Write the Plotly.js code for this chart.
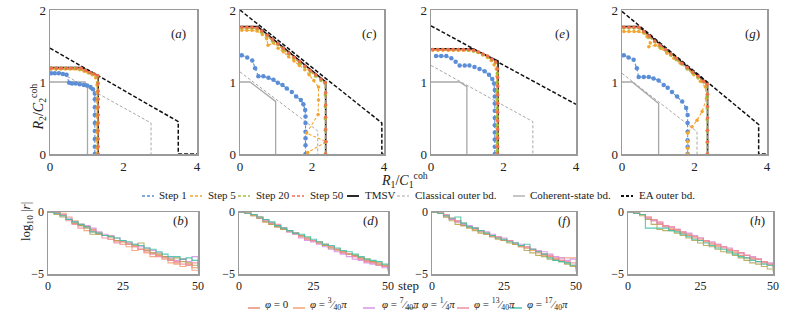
<!DOCTYPE html>
<html>
<head>
<meta charset="utf-8">
<script src="https://cdn.plot.ly/plotly-3.0.1.min.js"></script>
<style>
  body { margin: 0; background: #fff; }
  #plot { width: 789px; height: 331px; }
</style>
</head>
<body>
<div id="plot"></div>
<script>
// ---- panel (a) ----
const a_tmsv_x = [0, 0.86, 1.31, 1.31];
const a_tmsv_y = [1.20, 1.20, 1.09, 0];
const a_ea_x = [0, 3.49, 3.49, 4];
const a_ea_y = [1.47, 0.45, 0, 0];
const a_cl_x = [0, 2.75, 2.75];
const a_cl_y = [1.21, 0.43, 0];
const a_coh_x = [0, 0.95, 1.02, 1.02];
const a_coh_y = [1.0, 1.0, 0.94, 0];
const a_s1_x = [0.03,0.13,0.24,0.35,0.45,0.52,0.60,0.70,0.81,0.92,1.01,1.10,1.17,1.22,1.22,1.22,1.22,1.22,1.22,1.22,1.22,1.22];
const a_s1_y = [1.12,1.12,1.12,1.11,1.10,0.99,0.98,0.98,0.97,0.96,0.95,0.93,0.90,0.84,0.76,0.65,0.54,0.43,0.32,0.21,0.10,0];
const a_s5_x = [0.03,0.16,0.29,0.42,0.55,0.68,0.81,0.93,1.04,1.15,1.24,1.28,1.28,1.28,1.28,1.28,1.28,1.28,1.28,1.28,1.28];
const a_s5_y = [1.18,1.18,1.18,1.18,1.18,1.18,1.17,1.15,1.13,1.10,1.06,0.96,0.85,0.74,0.63,0.52,0.41,0.30,0.19,0.08,0];
const a_s20_x = [0.03,0.16,0.29,0.42,0.55,0.68,0.81,0.94,1.06,1.18,1.29,1.30,1.30,1.30,1.30,1.30,1.30,1.30,1.30,1.30,1.30];
const a_s20_y = [1.19,1.19,1.19,1.19,1.19,1.19,1.18,1.16,1.13,1.11,1.08,0.99,0.88,0.77,0.66,0.55,0.44,0.33,0.22,0.11,0];
const a_s50_x = [0.04,0.18,0.31,0.45,0.58,0.72,0.85,0.97,1.09,1.20,1.30,1.31,1.31,1.31,1.31,1.31,1.31,1.31,1.31,1.31,1.31];
const a_s50_y = [1.19,1.19,1.19,1.19,1.19,1.19,1.19,1.16,1.13,1.11,1.09,0.98,0.87,0.76,0.65,0.54,0.43,0.32,0.21,0.10,0];

// ---- panel (c) ----
const c_tmsv_x = [0, 0.49, 2.38, 2.38];
const c_tmsv_y = [1.77, 1.77, 1.0, 0];
const c_ea_x = [0, 3.94, 3.94, 4];
const c_ea_y = [2.0, 0.43, 0, 0];
const c_cl_x = [0, 2.16, 2.16];
const c_cl_y = [1.14, 0.32, 0];
const c_coh_x = [0, 0.28, 0.99, 0.99];
const c_coh_y = [1.0, 1.0, 0.73, 0];
const c_s1_x = [0.05,0.20,0.34,0.42,0.51,0.65,0.79,0.93,1.05,1.18,1.30,1.44,1.56,1.69,1.76,1.81,1.82,1.82,1.82,1.82,1.82,1.82];
const c_s1_y = [1.37,1.34,1.30,1.19,1.08,1.08,1.06,1.03,0.99,0.96,0.91,0.86,0.80,0.75,0.69,0.61,0.52,0.43,0.31,0.22,0.12,0];
const c_s5_x = [0.05,0.19,0.33,0.47,0.62,0.74,0.78,0.93,1.06,1.20,1.35,1.50,1.65,1.80,1.92,2.05,2.18,2.18,2.17,1.85,2.40,1.88];
const c_s5_y = [1.72,1.72,1.72,1.71,1.66,1.60,1.51,1.54,1.47,1.42,1.35,1.29,1.23,1.17,1.10,1.02,0.93,0.75,0.55,0.29,0.17,0.02];
const c_s20_x = [0.05,0.19,0.33,0.47,0.60,0.75,0.90,1.05,1.20,1.35,1.50,1.65,1.80,1.95,2.10,2.25,2.36,2.37,2.37,2.37,2.37,2.37,2.37];
const c_s20_y = [1.75,1.75,1.75,1.74,1.69,1.64,1.57,1.52,1.45,1.39,1.33,1.26,1.21,1.14,1.08,1.02,0.98,0.82,0.66,0.49,0.33,0.16,0];
const c_s50_x = [0.05,0.19,0.33,0.47,0.60,0.75,0.90,1.05,1.20,1.35,1.50,1.65,1.80,1.95,2.10,2.25,2.37,2.38,2.38,2.38,2.38,2.38,2.38];
const c_s50_y = [1.76,1.76,1.76,1.75,1.71,1.65,1.59,1.53,1.47,1.40,1.34,1.28,1.22,1.16,1.10,1.04,0.99,0.85,0.68,0.51,0.34,0.17,0];

// ---- panel (e) ----
const e_tmsv_x = [0, 1.14, 1.85, 1.85];
const e_tmsv_y = [1.46, 1.46, 1.29, 0];
const e_ea_x = [0, 4];
const e_ea_y = [1.78, 0.69];
const e_cl_x = [0, 2.81, 2.81];
const e_cl_y = [1.23, 0.45, 0];
const e_coh_x = [0, 0.79, 0.99, 0.99];
const e_coh_y = [1.0, 1.0, 0.935, 0];
const e_s1_x = [0.14,0.28,0.42,0.56,0.68,0.79,0.93,1.06,1.20,1.34,1.48,1.60,1.69,1.74,1.76,1.76,1.76,1.76,1.76,1.76,1.76,1.76,1.76,1.76];
const e_s1_y = [1.36,1.36,1.36,1.33,1.28,1.23,1.23,1.23,1.21,1.18,1.15,1.10,1.04,0.98,0.89,0.80,0.70,0.60,0.50,0.40,0.30,0.20,0.10,0];
const e_s5_x = [0.05,0.19,0.33,0.47,0.61,0.75,0.89,1.03,1.17,1.30,1.43,1.56,1.66,1.74,1.80,1.82,1.82,1.82,1.82,1.82,1.82,1.82,1.82,1.82,1.82];
const e_s5_y = [1.44,1.44,1.44,1.44,1.44,1.44,1.44,1.44,1.43,1.41,1.38,1.34,1.30,1.24,1.18,1.08,0.96,0.84,0.72,0.60,0.48,0.36,0.24,0.12,0];
const e_s20_x = [0.05,0.19,0.33,0.47,0.61,0.75,0.89,1.03,1.17,1.30,1.43,1.56,1.68,1.78,1.83,1.83,1.83,1.83,1.83,1.83,1.83,1.83,1.83,1.83,1.83];
const e_s20_y = [1.45,1.45,1.45,1.45,1.45,1.45,1.45,1.44,1.43,1.41,1.38,1.35,1.31,1.27,1.12,1.00,0.88,0.76,0.64,0.52,0.40,0.28,0.16,0.05,0];
const e_s50_x = [0.05,0.19,0.33,0.47,0.61,0.75,0.89,1.03,1.17,1.30,1.43,1.56,1.68,1.78,1.84,1.84,1.84,1.84,1.84,1.84,1.84,1.84,1.84,1.84,1.84];
const e_s50_y = [1.45,1.45,1.45,1.45,1.45,1.45,1.45,1.45,1.44,1.42,1.39,1.36,1.32,1.28,1.18,1.06,0.94,0.82,0.70,0.58,0.46,0.34,0.22,0.10,0];

// ---- panel (g) ----
const g_tmsv_x = [0, 0.46, 2.36, 2.36];
const g_tmsv_y = [1.77, 1.77, 0.98, 0];
const g_ea_x = [0, 3.77, 3.77, 4];
const g_ea_y = [1.98, 0.41, 0, 0];
const g_cl_x = [0, 2.07, 2.07];
const g_cl_y = [1.12, 0.31, 0];
const g_coh_x = [0, 0.28, 1.01, 1.01];
const g_coh_y = [1.0, 1.0, 0.70, 0];
const g_s1_x = [0.05,0.18,0.32,0.41,0.46,0.60,0.74,0.87,1.01,1.15,1.26,1.38,1.52,1.66,1.77,1.81,1.81,1.81,1.81,1.81,1.81];
const g_s1_y = [1.37,1.34,1.31,1.19,1.07,1.07,1.07,1.05,1.02,0.96,0.92,0.86,0.80,0.73,0.64,0.54,0.43,0.31,0.19,0.10,0];
const g_s5_x = [0.05,0.19,0.33,0.46,0.60,0.69,0.78,0.74,0.92,1.06,1.24,1.43,1.61,1.79,1.98,2.16,2.30,2.33,2.21,2.07,1.93,1.81,1.81,1.81,1.81];
const g_s5_y = [1.70,1.70,1.70,1.70,1.68,1.63,1.54,1.49,1.51,1.47,1.40,1.33,1.26,1.19,1.10,1.01,0.93,0.77,0.59,0.47,0.38,0.29,0.17,0.08,0];
const g_s20_x = [0.05,0.19,0.33,0.46,0.60,0.75,0.90,1.05,1.20,1.35,1.50,1.65,1.80,1.95,2.10,2.25,2.34,2.35,2.35,2.35,2.35,2.35,2.35];
const g_s20_y = [1.75,1.75,1.75,1.75,1.69,1.62,1.56,1.49,1.44,1.37,1.31,1.25,1.18,1.12,1.06,1.00,0.96,0.80,0.64,0.48,0.32,0.16,0];
const g_s50_x = [0.05,0.19,0.33,0.46,0.60,0.75,0.90,1.05,1.20,1.35,1.50,1.65,1.80,1.95,2.10,2.25,2.35,2.36,2.36,2.36,2.36,2.36,2.36];
const g_s50_y = [1.76,1.76,1.76,1.76,1.70,1.64,1.57,1.51,1.45,1.39,1.33,1.26,1.20,1.14,1.08,1.01,0.97,0.83,0.66,0.50,0.33,0.17,0];

// ---- bottom panels: log10|r| vs step ----
const steps = [0,2,4,6,8,10,12,14,16,18,20,22,24,26,28,30,32,34,36,38,40,42,44,46,48,50];
const phiLabels = ['<i>φ</i> = 0', '<i>φ</i> = <sup>3</sup>⁄<sub>40</sub><i>π</i>', '<i>φ</i> = <sup>7</sup>⁄<sub>40</sub><i>π</i>',
                   '<i>φ</i> = <sup>1</sup>⁄<sub>4</sub><i>π</i>', '<i>φ</i> = <sup>13</sup>⁄<sub>40</sub><i>π</i>', '<i>φ</i> = <sup>17</sup>⁄<sub>40</sub><i>π</i>'];

const b_r = [
  [0,-0.05,-0.3,-0.6,-0.9,-1.0,-1.2,-1.4,-1.8,-1.9,-2.0,-2.4,-2.6,-2.5,-2.8,-3.0,-3.0,-3.3,-3.5,-3.6,-3.9,-4.1,-3.8,-4.2,-4.5,-4.6],
  [0,-0.1,-0.1,-0.4,-0.7,-1.1,-1.5,-1.6,-1.7,-1.9,-2.2,-2.3,-2.4,-2.8,-3.1,-3.0,-3.3,-3.6,-3.5,-3.8,-4.1,-4.2,-4.4,-4.3,-4.7,-4.8],
  [0,-0.1,-0.2,-0.5,-0.8,-1.0,-1.1,-1.3,-1.6,-1.8,-1.9,-2.1,-2.3,-2.5,-2.6,-2.8,-2.9,-3.1,-3.3,-3.6,-3.7,-3.9,-3.8,-4.0,-3.6,-4.2],
  [0,-0.2,-0.4,-0.6,-0.9,-1.1,-1.3,-1.8,-1.8,-1.9,-2.0,-2.3,-2.4,-2.6,-2.7,-2.5,-3.1,-3.3,-3.4,-3.6,-3.8,-3.7,-4.0,-4.1,-4.3,-4.4],
  [0,0,-0.2,-0.7,-1.0,-1.3,-1.2,-1.5,-1.7,-2.1,-2.2,-2.5,-2.4,-2.6,-2.8,-3.0,-3.2,-3.4,-3.6,-3.7,-3.9,-4.0,-4.2,-4.3,-4.1,-4.5],
  [0,-0.1,-0.3,-0.6,-0.8,-1.0,-1.2,-1.6,-1.7,-1.9,-2.0,-2.1,-2.3,-2.4,-2.6,-2.7,-2.9,-3.0,-3.2,-3.4,-3.6,-3.6,-3.8,-3.7,-3.9,-4.4]
];
const d_r = [
  [0,-0.1,-0.3,-0.5,-0.7,-0.9,-1.2,-1.3,-1.5,-1.7,-1.9,-2.1,-2.3,-2.4,-2.6,-2.8,-3.0,-3.2,-3.4,-3.5,-3.7,-3.9,-4.0,-4.1,-4.3,-4.5],
  [0,0,-0.2,-0.4,-0.8,-1.0,-1.1,-1.4,-1.6,-1.8,-2.0,-2.2,-2.4,-2.5,-2.7,-2.9,-3.1,-3.3,-3.4,-3.6,-3.8,-4.0,-4.1,-4.3,-4.4,-4.6],
  [0,-0.1,-0.2,-0.5,-0.7,-0.9,-1.1,-1.3,-1.6,-1.8,-2.1,-2.3,-2.4,-2.6,-2.8,-3.0,-3.2,-3.4,-3.6,-3.8,-3.9,-4.1,-4.2,-4.3,-4.5,-4.8],
  [0,-0.1,-0.3,-0.5,-0.8,-1.0,-1.2,-1.4,-1.5,-1.7,-1.9,-2.1,-2.3,-2.5,-2.7,-2.9,-3.0,-3.2,-3.4,-3.5,-3.7,-3.8,-4.0,-4.2,-4.3,-4.5],
  [0,-0.1,-0.2,-0.4,-0.6,-0.9,-1.0,-1.3,-1.5,-1.7,-2.0,-2.2,-2.3,-2.5,-2.6,-2.8,-3.0,-3.3,-3.4,-3.6,-3.8,-4.0,-4.1,-4.3,-4.4,-4.7],
  [0,-0.1,-0.2,-0.4,-0.6,-0.8,-1.1,-1.3,-1.5,-1.7,-1.8,-2.0,-2.2,-2.4,-2.6,-2.7,-2.9,-3.1,-3.2,-3.4,-3.6,-3.8,-3.9,-4.0,-4.2,-4.4]
];
const f_r = [
  [0,-0.1,-0.4,-0.6,-0.8,-1.1,-1.2,-1.3,-1.5,-1.8,-2.0,-2.1,-2.3,-2.3,-2.6,-2.8,-2.9,-3.0,-3.2,-3.4,-3.6,-3.8,-3.9,-4.1,-4.3,-4.5],
  [0,-0.1,-0.3,-0.5,-0.7,-1.0,-1.2,-1.4,-1.6,-1.8,-1.9,-2.1,-2.3,-2.4,-2.6,-2.7,-2.9,-3.1,-3.3,-3.5,-3.6,-3.8,-3.7,-3.7,-3.7,-3.7],
  [0,-0.1,-0.3,-0.6,-0.8,-1.0,-1.1,-1.3,-1.5,-1.6,-1.8,-2.0,-2.1,-2.3,-2.5,-2.6,-2.8,-3.0,-3.1,-3.2,-3.4,-3.6,-3.7,-3.9,-3.8,-4.2],
  [0,-0.1,-0.4,-0.7,-1.0,-1.1,-1.3,-1.5,-1.7,-1.8,-2.0,-2.2,-2.3,-2.5,-2.6,-2.8,-3.1,-3.3,-3.5,-3.6,-3.8,-3.9,-4.0,-4.2,-4.4,-4.8],
  [0,0,-0.2,-0.5,-0.7,-0.9,-1.2,-1.3,-1.5,-1.7,-1.9,-2.0,-2.2,-2.3,-2.5,-2.7,-2.8,-3.0,-3.2,-3.4,-3.5,-3.7,-3.9,-4.0,-4.1,-4.4],
  [0,-0.1,-0.3,-0.5,-0.4,-0.9,-1.2,-1.3,-1.5,-1.7,-1.9,-2.1,-2.2,-2.4,-2.5,-2.7,-2.6,-3.0,-3.2,-3.4,-3.7,-3.9,-4.0,-4.1,-4.3,-4.6]
];
const h_r = [
  [0,-0.1,-0.2,-0.5,-0.7,-1.0,-1.2,-1.4,-1.5,-1.7,-1.9,-2.1,-2.3,-2.4,-2.6,-2.8,-2.9,-3.1,-3.3,-3.5,-3.7,-3.8,-4.0,-4.1,-4.3,-4.5],
  [0,-0.1,-0.2,-0.4,-0.6,-0.9,-1.1,-1.3,-1.5,-1.7,-1.8,-2.0,-2.2,-2.4,-2.5,-2.7,-2.8,-3.0,-3.2,-3.3,-3.5,-3.7,-3.8,-4.0,-4.2,-4.4],
  [0,-0.1,-0.2,-0.5,-0.7,-0.9,-1.1,-1.2,-1.4,-1.6,-1.7,-1.9,-2.1,-2.3,-2.4,-2.6,-2.8,-2.9,-3.1,-3.3,-3.5,-3.6,-3.8,-4.0,-4.1,-4.3],
  [0,-0.1,-0.3,-0.6,-1.0,-1.4,-1.5,-1.5,-1.7,-1.9,-2.1,-2.3,-2.5,-2.7,-2.8,-3.0,-3.2,-3.3,-3.5,-3.7,-3.9,-4.1,-4.2,-4.4,-4.6,-4.8],
  [0,0,-0.2,-0.4,-0.6,-0.8,-1.1,-1.2,-1.4,-1.6,-1.8,-2.0,-2.1,-2.3,-2.5,-2.6,-2.8,-3.0,-3.1,-3.3,-3.5,-3.7,-3.8,-4.0,-4.2,-4.3],
  [0,-0.1,-0.2,-1.3,-1.3,-1.3,-1.3,-1.5,-1.6,-1.8,-2.0,-2.2,-2.3,-2.5,-2.7,-2.9,-3.0,-3.2,-3.4,-3.6,-3.7,-3.9,-4.0,-4.2,-4.3,-4.5]
];

// colours
const C_S1 = '#5b8ed6', C_S5 = '#f2a530', C_S20 = '#a3c23c', C_S50 = '#ef6f4f';
const C_GREY = '#a8a8a8';
const phiColors = ['#e8866a', '#f29c6e', '#d28ee0', '#b3a24c', '#f08a9a', '#3dbfa5'];
const FONT = '"Liberation Serif", "DejaVu Serif", serif';

const W = 789, H = 331;
const fx = p => p / W;
const fy = p => 1 - p / H;

function line(xs, ys, n, color, dash, width, msize) {
    const t = {
        x: xs, y: ys, xaxis: 'x' + n, yaxis: 'y' + n,
        type: 'scatter', mode: msize ? 'lines+markers' : 'lines',
        line: { color: color, dash: dash, width: width },
        hoverinfo: 'skip', showlegend: false
    };
    if (msize) t.marker = { color: color, size: msize };
    return t;
}

const topPanels = [
    { n: '',  coh: [a_coh_x, a_coh_y], cl: [a_cl_x, a_cl_y], ea: [a_ea_x, a_ea_y], tm: [a_tmsv_x, a_tmsv_y],
      s1: [a_s1_x, a_s1_y], s5: [a_s5_x, a_s5_y], s20: [a_s20_x, a_s20_y], s50: [a_s50_x, a_s50_y] },
    { n: '2', coh: [c_coh_x, c_coh_y], cl: [c_cl_x, c_cl_y], ea: [c_ea_x, c_ea_y], tm: [c_tmsv_x, c_tmsv_y],
      s1: [c_s1_x, c_s1_y], s5: [c_s5_x, c_s5_y], s20: [c_s20_x, c_s20_y], s50: [c_s50_x, c_s50_y] },
    { n: '3', coh: [e_coh_x, e_coh_y], cl: [e_cl_x, e_cl_y], ea: [e_ea_x, e_ea_y], tm: [e_tmsv_x, e_tmsv_y],
      s1: [e_s1_x, e_s1_y], s5: [e_s5_x, e_s5_y], s20: [e_s20_x, e_s20_y], s50: [e_s50_x, e_s50_y] },
    { n: '4', coh: [g_coh_x, g_coh_y], cl: [g_cl_x, g_cl_y], ea: [g_ea_x, g_ea_y], tm: [g_tmsv_x, g_tmsv_y],
      s1: [g_s1_x, g_s1_y], s5: [g_s5_x, g_s5_y], s20: [g_s20_x, g_s20_y], s50: [g_s50_x, g_s50_y] }
];

const data = [];
topPanels.forEach(p => {
    data.push(line(p.coh[0], p.coh[1], p.n, C_GREY, 'solid', 1.3));
    data.push(line(p.cl[0], p.cl[1], p.n, C_GREY, '3px,2px', 1));
    data.push(line(p.ea[0], p.ea[1], p.n, '#111', '4px,2px', 1.5));
    data.push(line(p.tm[0], p.tm[1], p.n, '#111', 'solid', 1.6));
    data.push(line(p.s1[0], p.s1[1], p.n, C_S1, '3px,2px', 1.1, 4.5));
    data.push(line(p.s5[0], p.s5[1], p.n, C_S5, '3px,2px', 1.1, 3.5));
    data.push(line(p.s20[0], p.s20[1], p.n, C_S20, '3px,2px', 1.1, 3.5));
    data.push(line(p.s50[0], p.s50[1], p.n, C_S50, '3px,2px', 1.1, 3.5));
});

// bottom curves drawn as staircases like the step-wise search
[[b_r, '5'], [d_r, '6'], [f_r, '7'], [h_r, '8']].forEach(([rows, n]) => {
    rows.forEach((r, i) => {
        const t = line(steps, r, n, phiColors[i], 'solid', 1.1);
        t.line.shape = 'hv';
        t.opacity = 0.85;
        data.push(t);
    });
});

// axes
const topX = [[50, 197], [240, 384], [431, 576], [622, 767]];
const botX = [[48, 198], [239, 388], [432, 576], [628, 773]];
const topY = [fy(154), fy(10)];
const botY = [fy(274), fy(212)];

const axBase = {
    showline: true, mirror: true, linecolor: '#9a9a9a', linewidth: 1.5,
    showgrid: false, zeroline: false, ticks: '',
    tickfont: { family: FONT, size: 13, color: '#222' }
};

const layout = {
    width: W, height: H,
    margin: { l: 0, r: 0, t: 0, b: 0 },
    paper_bgcolor: '#fff', plot_bgcolor: '#fff',
    font: { family: FONT, color: '#222' },
    showlegend: false,
    annotations: [], shapes: []
};

topX.forEach((d, i) => {
    const n = i === 0 ? '' : String(i + 1);
    layout['xaxis' + n] = Object.assign({}, axBase, {
        domain: [fx(d[0]), fx(d[1])], range: [0, 4], tickvals: [0, 2, 4], anchor: 'y' + n
    });
    layout['yaxis' + n] = Object.assign({}, axBase, {
        domain: topY, range: [0, 2], tickvals: [0, 1, 2], anchor: 'x' + n
    });
});
botX.forEach((d, i) => {
    const n = String(i + 5);
    layout['xaxis' + n] = Object.assign({}, axBase, {
        domain: [fx(d[0]), fx(d[1])], range: [0, 50], tickvals: [0, 25, 50], anchor: 'y' + n,
        tickfont: { family: FONT, size: 12, color: '#222' }
    });
    layout['yaxis' + n] = Object.assign({}, axBase, {
        domain: botY, range: [-5, 0], tickvals: [-5, 0], anchor: 'x' + n,
        tickfont: { family: FONT, size: 12, color: '#222' }
    });
});

function note(text, x, y, size, opts) {
    layout.annotations.push(Object.assign({
        text: text, x: fx(x), y: fy(y), xref: 'paper', yref: 'paper',
        showarrow: false, font: { family: FONT, size: size, color: '#222' }
    }, opts || {}));
}

// panel letters
[['a', 188], ['c', 378], ['e', 571], ['g', 762]].forEach(([l, x]) =>
    note('(<i>' + l + '</i>)', x, 24, 13, { xanchor: 'right' }));
[['b', 190], ['d', 380], ['f', 572], ['h', 767]].forEach(([l, x]) =>
    note('(<i>' + l + '</i>)', x, 220, 13, { xanchor: 'right' }));

// axis titles
note('<i>R</i><sub>1</sub>/<i>C</i><sub>1</sub><sup>coh</sup>', 404, 180, 14);
note('<i>R</i><sub>2</sub>/<i>C</i><sub>2</sub><sup>coh</sup>', 27, 82, 14, { textangle: -90 });
note('step', 408, 295, 13);
note('log<sub>10</sub> |<i>r</i>|', 16, 243, 13, { textangle: -90 });

// legends drawn by hand to keep them compact
function swatch(x0, x1, y, color, dash, width) {
    layout.shapes.push({
        type: 'line', xref: 'paper', yref: 'paper',
        x0: fx(x0), x1: fx(x1), y0: fy(y), y1: fy(y),
        line: { color: color, dash: dash, width: width }
    });
}
const legTop = [
    [142, 157, C_S1, '3px,2px', 1.5, 'Step 1'],
    [190, 206, C_S5, '3px,2px', 1.5, 'Step 5'],
    [238, 254, C_S20, '3px,2px', 1.5, 'Step 20'],
    [292, 308, C_S50, '3px,2px', 1.5, 'Step 50'],
    [347, 363, '#111', 'solid', 1.8, 'TMSV'],
    [397, 413, C_GREY, '3px,2px', 1.2, 'Classical outer bd.'],
    [513, 528, C_GREY, 'solid', 1.3, 'Coherent-state bd.'],
    [621, 637, '#111', '3px,2px', 2, 'EA outer bd.']
];
legTop.forEach(([x0, tx, c, d, w, t]) => {
    swatch(x0, x0 + 12, 196, c, d, w);
    note(t, tx, 195, 11, { xanchor: 'left' });
});
// fraction labels carry sub/sup, which shifts their box, so they sit a bit lower
const legBotX = [[248, 263], [293, 308], [363, 380], [405, 420], [457, 472], [510, 525]];
legBotX.forEach(([x0, tx], i) => {
    swatch(x0, x0 + 12, 308, phiColors[i], 'solid', 1.4);
    note(phiLabels[i], tx, i === 0 ? 312 : 314, 11, { xanchor: 'left' });
});

Plotly.newPlot('plot', data, layout, { staticPlot: true });
</script>
</body>
</html>
